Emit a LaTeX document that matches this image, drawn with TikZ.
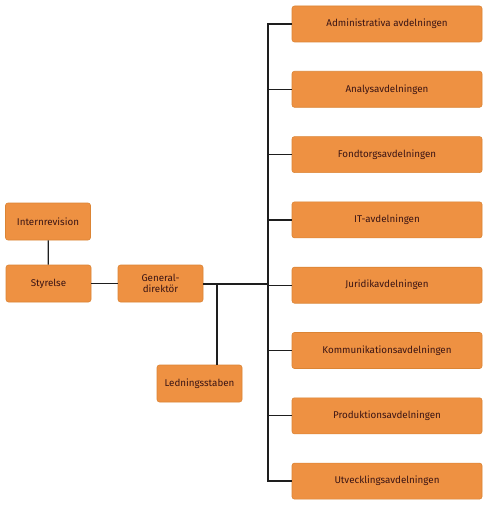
\documentclass[tikz,border=0pt]{standalone}
\usepackage{fontspec}
\setmainfont{Fira Sans}
\definecolor{boxfill}{HTML}{EE9142}
\definecolor{boxline}{HTML}{DB8434}
\definecolor{txt}{HTML}{3A1414}
\definecolor{ln}{HTML}{1E1E1E}
\begin{document}
\begin{tikzpicture}[x=1pt,y=-1pt,
  orgbox/.style={draw=boxline,line width=0.6pt,fill=boxfill,rounded corners=2.5pt,
    minimum height=36pt,inner sep=1pt,text=txt,font=\fontsize{9.8}{10.4}\selectfont,align=center},
  dept/.style={orgbox,minimum width=190pt},
  small/.style={orgbox,minimum width=85pt,minimum height=37pt},
  conn/.style={draw=ln,line width=1.25pt}]
\useasboundingbox (0,0) rectangle (488,508);
\fill[white] (0,0) rectangle (488,508);
\node[small] (intern) at (48,221.5) {Internrevision};
\node[small] (styr) at (48.5,283.5) {Styrelse};
\node[small] (gd) at (160.5,283.5) {General-\\direktör};
\node[small] (led) at (199.5,383.5) {Ledningsstaben};
\foreach \n/\t [count=\i from 0] in {a/Administrativa avdelningen,b/Analysavdelningen,c/Fondtorgsavdelningen,d/IT-avdelningen,e/Juridikavdelningen,f/Kommunikationsavdelningen,g/Produktionsavdelningen,h/Utvecklingsavdelningen}
  \node[dept] (\n) at (387,24+65.3*\i) {\t};
\coordinate (bustop) at (268,24);
\coordinate (busbot) at (268,481);
\coordinate (busmid) at (268,284);
\coordinate (ledj) at (217,284);
\draw[conn] (intern) -- (styr);
\draw[conn] (styr) -- (gd);
\draw[conn] (gd.east |- busmid) -- (busmid);
\draw[conn] (ledj) -- (led.north -| ledj);
\draw[conn,line cap=rect] (bustop) -- (busbot);
\foreach \n in {a,b,c,d,e,f,g,h}
  \draw[conn] (bustop |- \n.west) -- (\n.west);
\end{tikzpicture}
\end{document}
